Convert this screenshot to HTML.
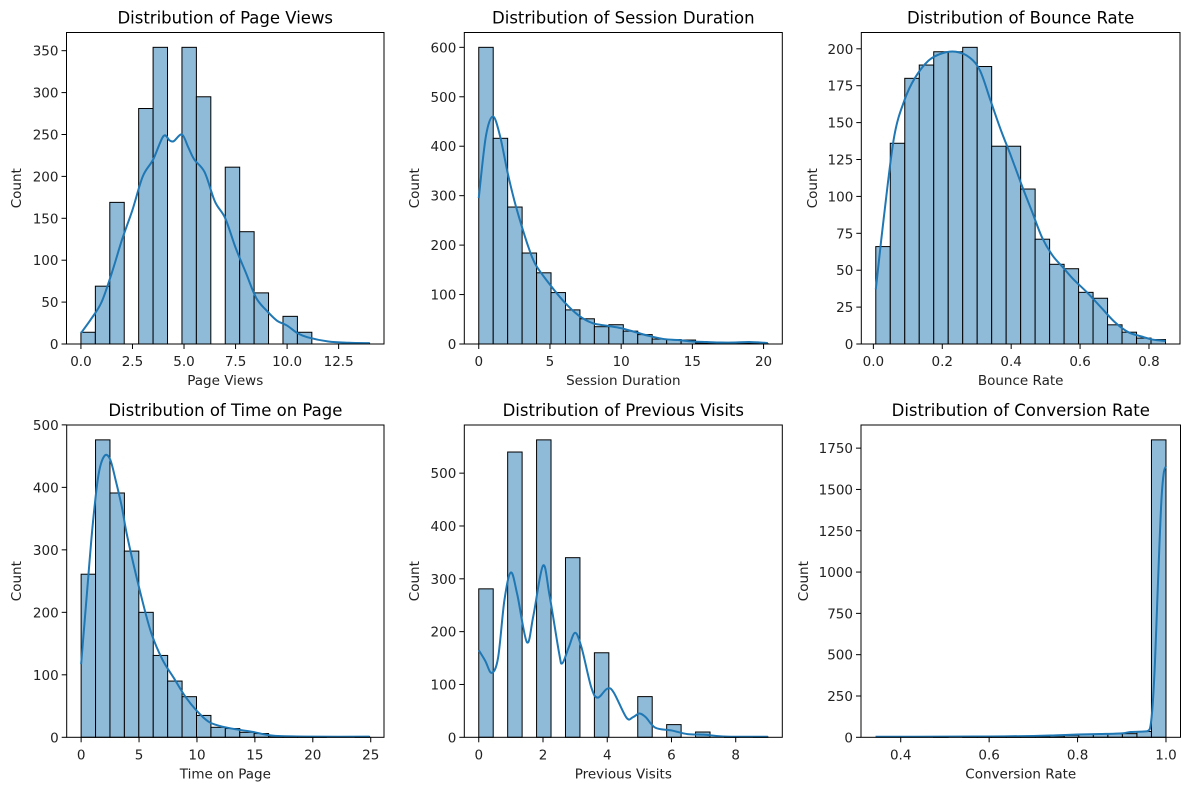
<!DOCTYPE html>
<html><head><meta charset="utf-8"><style>
html,body{margin:0;padding:0;background:#fff;}
svg{display:block;font-family:"DejaVu Sans","Liberation Sans",sans-serif;}
</style></head><body>
<svg id="fig" width="1189" height="790" viewBox="0 0 1189 790"></svg>
<script>
// ---- Data ----
const pvCounts=[14,69,169,0,281,354,0,354,295,0,211,134,61,0,33,14,0,0,0,1];
const pvKdeX=[0,0.5,1,1.5,2,2.5,3,3.5,4,4.3,4.5,4.9,5.2,5.5,6,6.5,7,7.5,8,8.5,9,9.5,10,10.5,11,12,13,14];
const pvKdeY=[13,30,50,85,125,160,200,220,248,243,242,250,235,220,205,170,150,115,85,55,40,28,22,13,8,3,1.5,1];
const pvXTicks=[0,2.5,5,7.5,10,12.5];
const pvXLabels=["0.0","2.5","5.0","7.5","10.0","12.5"];
const pvYTicks=[0,50,100,150,200,250,300,350];

const sdCounts=[600,416,277,184,144,104,69,51,35,39,26,19,10,9,8,2,2,2,2,1];
const sdKdeX=[0,0.5,1,1.5,2,2.5,3,3.5,4,5,6,7,8,9,10,11,12,13,14,15,16,17,18,19,20.3];
const sdKdeY=[295,420,460,420,350,290,240,195,160,120,85,58,42,37,32,24,16,10,8,5,4,3,3,4,2];
const sdXTicks=[0,5,10,15,20];
const sdXLabels=["0","5","10","15","20"];
const sdYTicks=[0,100,200,300,400,500,600];

const brCounts=[66,136,180,189,198,198,201,188,134,134,105,71,54,51,35,31,13,8,4,3];
const brKdeX=[0.007,0.03,0.06,0.09,0.12,0.16,0.2,0.24,0.28,0.31,0.34,0.37,0.4,0.43,0.46,0.49,0.52,0.55,0.58,0.62,0.66,0.70,0.74,0.78,0.81,0.848];
const brKdeY=[37,85,140,165,180,192,197,198,194,185,165,145,127,108,90,72,60,52,44,35,25,15,8,5,3,2];
const brXTicks=[0,0.2,0.4,0.6,0.8];
const brXLabels=["0.0","0.2","0.4","0.6","0.8"];
const brYTicks=[0,25,50,75,100,125,150,175,200];

const tpCounts=[261,476,391,298,200,131,90,65,35,16,14,8,6,2,1,1,1,0,0,1];
const tpKdeX=[0,0.5,1,1.5,2,2.5,3,3.5,4,5,6,7,8,9,10,11,12,13,14,15,16,17,20,24.9];
const tpKdeY=[117,230,340,420,450,445,410,370,320,240,170,125,95,65,42,25,18,14,11,8,4,2,1,1];
const tpXTicks=[0,5,10,15,20,25];
const tpXLabels=["0","5","10","15","20","25"];
const tpYTicks=[0,100,200,300,400,500];

const pvsCounts=[281,0,540,0,563,0,340,0,160,0,0,77,0,24,0,10,0,1,0,1];
const pvsKdeX=[0,0.2,0.4,0.6,0.8,1,1.2,1.5,1.7,2,2.2,2.5,2.6,2.8,3,3.2,3.5,3.7,4,4.2,4.6,4.8,5,5.2,5.5,6,6.5,7,7.5,8,9];
const pvsKdeY=[165,145,122,150,260,312,270,180,230,325,270,160,140,170,198,170,95,75,92,85,37,38,45,38,18,13,6,5,2,1,1];
const pvsXTicks=[0,2,4,6,8];
const pvsXLabels=["0","2","4","6","8"];
const pvsYTicks=[0,100,200,300,400,500];

const crCounts=[0,0,0,0,1,0,1,1,2,3,3,5,8,12,18,20,20,22,35,1800];
const crKdeX=[0.343,0.5,0.6,0.7,0.75,0.8,0.85,0.9,0.92,0.95,0.96,0.965,0.97,0.975,0.98,0.985,0.99,0.995,1.0];
const crKdeY=[3,4,5,8,12,17,20,24,32,35,40,70,200,450,800,1150,1450,1600,1640];
const crXTicks=[0.4,0.6,0.8,1.0];
const crXLabels=["0.4","0.6","0.8","1.0"];
const crYTicks=[0,250,500,750,1000,1250,1500,1750];

const NS="http://www.w3.org/2000/svg";
const fig=document.getElementById('fig');
function mk(tag,attrs,parent){const e=document.createElementNS(NS,tag);for(const k in attrs)e.setAttribute(k,attrs[k]);(parent||fig).appendChild(e);return e;}

function panel(o){
  const g=mk('g',{});
  
  
  const n=o.counts.length,w=(o.xmax-o.xmin)/n;
  const span=o.xmax-o.xmin;
  const x0=o.xmin-0.05*span,x1=o.xmax+0.05*span;
  const ymax=Math.max(Math.max(...o.counts),Math.max(...o.kdeY))*1.05;
  const X=v=>o.L+(v-x0)/(x1-x0)*(o.R-o.L);
  const Y=v=>o.B-v/ymax*(o.B-o.T);
  // bars
  o.counts.forEach((c,i)=>{
    const r=mk('rect',{x:X(o.xmin+i*w),y:Y(c),width:X(o.xmin+(i+1)*w)-X(o.xmin+i*w),height:o.B-Y(c),fill:'#8fbbd9',stroke:'#000','stroke-width':1},g);
    
    
  });
  // kde (catmull-rom)
  const pts=o.kdeX.map((v,i)=>[X(v),Y(o.kdeY[i])]);
  let d='M'+pts[0][0]+','+pts[0][1];
  for(let i=0;i<pts.length-1;i++){
    const p0=pts[Math.max(0,i-1)],p1=pts[i],p2=pts[i+1],p3=pts[Math.min(pts.length-1,i+2)];
    d+=' C'+(p1[0]+(p2[0]-p0[0])/6)+','+(p1[1]+(p2[1]-p0[1])/6)+' '+(p2[0]-(p3[0]-p1[0])/6)+','+(p2[1]-(p3[1]-p1[1])/6)+' '+p2[0]+','+p2[1];
  }
  const k=mk('path',{d:d,fill:'none',stroke:'#1f77b4','stroke-width':2},g);
  
  
  // frame
  const f=mk('rect',{x:o.L,y:o.T,width:o.R-o.L,height:o.B-o.T,fill:'none',stroke:'#000','stroke-width':1},g);
  
  
  // ticks
  o.xTicks.forEach((v,i)=>{
    mk('line',{x1:X(v),x2:X(v),y1:o.B,y2:o.B+5,stroke:'#000'},g);
    const t=mk('text',{x:X(v),y:o.B+22,'text-anchor':'middle','font-size':13.5,fill:'#222'},g);
    t.textContent=o.xLabels[i];
    
    
  });
  o.yTicks.forEach(v=>{
    mk('line',{x1:o.L-5,x2:o.L,y1:Y(v),y2:Y(v),stroke:'#000'},g);
    const t=mk('text',{x:o.L-8,y:Y(v)+5,'text-anchor':'end','font-size':13.5,fill:'#222'},g);
    t.textContent=String(v);
    
    
  });
  const ti=mk('text',{x:(o.L+o.R)/2,y:o.T-9,'text-anchor':'middle','font-size':16.5,fill:'#000'},g);
  ti.textContent=o.title;
  
  
  const xl=mk('text',{x:(o.L+o.R)/2,y:o.B+41,'text-anchor':'middle','font-size':13.5,fill:'#222'},g);
  xl.textContent=o.xlabel;
  
  
  const yl=mk('text',{x:0,y:0,'text-anchor':'middle','font-size':13.5,fill:'#222',transform:'translate('+(o.ylx+5)+','+((o.T+o.B)/2)+') rotate(-90)'},g);
  yl.textContent='Count';
  
  
}
const T1=32.5,B1=344,T2=425,B2=737.3;
panel({name:'page-views-panel',title:'Distribution of Page Views',xlabel:'Page Views',L:66.5,R:384,T:T1,B:B1,ylx:16,xmin:0,xmax:14,counts:pvCounts,kdeX:pvKdeX,kdeY:pvKdeY,xTicks:pvXTicks,xLabels:pvXLabels,yTicks:pvYTicks});
panel({name:'session-duration-panel',title:'Distribution of Session Duration',xlabel:'Session Duration',L:464.3,R:782.3,T:T1,B:B1,ylx:414,xmin:0,xmax:20.3,counts:sdCounts,kdeX:sdKdeX,kdeY:sdKdeY,xTicks:sdXTicks,xLabels:sdXLabels,yTicks:sdYTicks});
panel({name:'bounce-rate-panel',title:'Distribution of Bounce Rate',xlabel:'Bounce Rate',L:861.3,R:1180,T:T1,B:B1,ylx:812,xmin:0.007,xmax:0.848,counts:brCounts,kdeX:brKdeX,kdeY:brKdeY,xTicks:brXTicks,xLabels:brXLabels,yTicks:brYTicks});
panel({name:'time-on-page-panel',title:'Distribution of Time on Page',xlabel:'Time on Page',L:66.7,R:384,T:T2,B:B2,ylx:16,xmin:0,xmax:24.9,counts:tpCounts,kdeX:tpKdeX,kdeY:tpKdeY,xTicks:tpXTicks,xLabels:tpXLabels,yTicks:tpYTicks});
panel({name:'previous-visits-panel',title:'Distribution of Previous Visits',xlabel:'Previous Visits',L:464.3,R:782.3,T:T2,B:B2,ylx:414,xmin:0,xmax:9,counts:pvsCounts,kdeX:pvsKdeX,kdeY:pvsKdeY,xTicks:pvsXTicks,xLabels:pvsXLabels,yTicks:pvsYTicks});
panel({name:'conversion-rate-panel',title:'Distribution of Conversion Rate',xlabel:'Conversion Rate',L:861,R:1180.5,T:T2,B:B2,ylx:803,xmin:0.343,xmax:1.0,counts:crCounts,kdeX:crKdeX,kdeY:crKdeY,xTicks:crXTicks,xLabels:crXLabels,yTicks:crYTicks});
</script>
</body></html>
